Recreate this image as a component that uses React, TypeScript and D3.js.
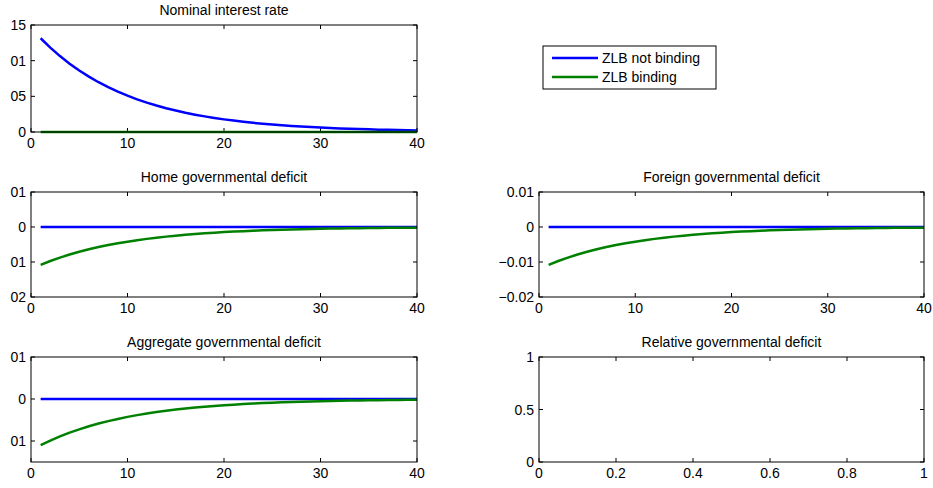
import React from "react";
import * as d3 from "d3";

const periods = d3.range(1, 41);

const nominalNotBinding = [
  0.01314, 0.01183, 0.01064, 0.00958, 0.00862, 0.00776, 0.00698, 0.00628, 0.00566, 0.00509,
  0.00458, 0.00412, 0.00371, 0.00334, 0.00301, 0.0027, 0.00243, 0.00219, 0.00197, 0.00177,
  0.0016, 0.00144, 0.00129, 0.00116, 0.00105, 0.00094, 0.00085, 0.00076, 0.00069, 0.00062,
  0.00056, 0.0005, 0.00045, 0.00041, 0.00037, 0.00033, 0.0003, 0.00027, 0.00024, 0.00022,
];
const nominalBinding = periods.map(() => 0);

const deficitNotBinding = periods.map(() => 0);
const deficitBinding = [
  -0.0108, -0.00972, -0.00875, -0.00787, -0.00709, -0.00638, -0.00574, -0.00517, -0.00465, -0.00419,
  -0.00377, -0.00339, -0.00305, -0.00275, -0.00247, -0.00222, -0.002, -0.0018, -0.00162, -0.00146,
  -0.00131, -0.00118, -0.00106, -0.00096, -0.00086, -0.00078, -0.0007, -0.00063, -0.00057, -0.00051,
  -0.00046, -0.00041, -0.00037, -0.00034, -0.0003, -0.00027, -0.00024, -0.00022, -0.0002, -0.00018,
];
const aggregateBinding = [
  -0.011, -0.0099, -0.00891, -0.00802, -0.00722, -0.0065, -0.00585, -0.00526, -0.00474, -0.00426,
  -0.00384, -0.00345, -0.00311, -0.0028, -0.00252, -0.00227, -0.00204, -0.00184, -0.00165, -0.00149,
  -0.00134, -0.0012, -0.00108, -0.00098, -0.00088, -0.00079, -0.00071, -0.00064, -0.00058, -0.00052,
  -0.00047, -0.00042, -0.00038, -0.00034, -0.00031, -0.00028, -0.00025, -0.00022, -0.0002, -0.00018,
];

const xTicks40 = [0, 10, 20, 30, 40];
const xTicksUnit = [0, 0.2, 0.4, 0.6, 0.8, 1];

const seriesNames = ["ZLB not binding", "ZLB binding"];
const seriesColors = ["#0000ff", "#008000"];

type Tick = { v: number; label: string };

type PanelSpec = {
  title: string;
  left: number;
  right: number;
  top: number;
  bottom: number;
  xDomain: [number, number];
  xTicks: number[];
  yDomain: [number, number];
  yTicks: Tick[];
  series: number[][];
};

const panels: PanelSpec[] = [
  {
    title: "Nominal interest rate",
    left: 31, right: 417, top: 25, bottom: 132,
    xDomain: [0, 40], xTicks: xTicks40,
    yDomain: [0, 0.015],
    yTicks: [
      { v: 0, label: "0" }, { v: 0.005, label: "05" }, { v: 0.01, label: "01" }, { v: 0.015, label: "15" },
    ],
    series: [nominalNotBinding, nominalBinding],
  },
  {
    title: "Home governmental deficit",
    left: 31, right: 417, top: 192, bottom: 297,
    xDomain: [0, 40], xTicks: xTicks40,
    yDomain: [-0.02, 0.01],
    yTicks: [
      { v: -0.02, label: "02" }, { v: -0.01, label: "01" }, { v: 0, label: "0" }, { v: 0.01, label: "01" },
    ],
    series: [deficitNotBinding, deficitBinding],
  },
  {
    title: "Foreign governmental deficit",
    left: 539, right: 924, top: 192, bottom: 297,
    xDomain: [0, 40], xTicks: xTicks40,
    yDomain: [-0.02, 0.01],
    yTicks: [
      { v: -0.02, label: "\u22120.02" }, { v: -0.01, label: "\u22120.01" }, { v: 0, label: "0" }, { v: 0.01, label: "0.01" },
    ],
    series: [deficitNotBinding, deficitBinding],
  },
  {
    title: "Aggregate governmental deficit",
    left: 31, right: 417, top: 357, bottom: 462,
    xDomain: [0, 40], xTicks: xTicks40,
    yDomain: [-0.015, 0.01],
    yTicks: [
      { v: -0.01, label: "01" }, { v: 0, label: "0" }, { v: 0.01, label: "01" },
    ],
    series: [deficitNotBinding, aggregateBinding],
  },
  {
    title: "Relative governmental deficit",
    left: 539, right: 924, top: 357, bottom: 462,
    xDomain: [0, 1], xTicks: xTicksUnit,
    yDomain: [0, 1],
    yTicks: [
      { v: 0, label: "0" }, { v: 0.5, label: "0.5" }, { v: 1, label: "1" },
    ],
    series: [],
  },
];

const FONT = "'Liberation Sans', Arial, Helvetica, sans-serif";
const FS = 14;
const TL = 4;

function Panel({ p, idx }: { p: PanelSpec; idx: number }) {
  const x = d3.scaleLinear().domain(p.xDomain).range([p.left, p.right]);
  const y = d3.scaleLinear().domain(p.yDomain).range([p.bottom, p.top]);
  const line = d3
    .line<number>()
    .x((_, i) => x(periods[i]))
    .y((d) => y(d));
  const cx = (p.left + p.right) / 2;
  return (
    <g>
      <rect x={p.left} y={p.top} width={p.right - p.left} height={p.bottom - p.top} fill="#fff" />
      <defs>
        <clipPath id={`clip${idx}`}>
          <rect x={p.left - 2} y={p.top - 2} width={p.right - p.left + 4} height={p.bottom - p.top + 4} />
        </clipPath>
      </defs>
      {p.xTicks.map((t) => (
        <g key={`xt${t}`}>
          <line x1={x(t)} x2={x(t)} y1={p.bottom} y2={p.bottom - TL} stroke="#000" />
          <line x1={x(t)} x2={x(t)} y1={p.top} y2={p.top + TL} stroke="#000" />
          <text x={x(t)} y={p.bottom + 15.5} textAnchor="middle" fontSize={FS} fontFamily={FONT}>
            {String(t)}
          </text>
        </g>
      ))}
      {p.yTicks.map((t, i) => (
        <g key={`yt${i}`}>
          <line x1={p.left} x2={p.left + TL} y1={y(t.v)} y2={y(t.v)} stroke="#000" />
          <line x1={p.right} x2={p.right - TL} y1={y(t.v)} y2={y(t.v)} stroke="#000" />
          <text x={p.left - 5} y={y(t.v) + 5} textAnchor="end" fontSize={FS} fontFamily={FONT}>
            {t.label}
          </text>
        </g>
      ))}
      <g clipPath={`url(#clip${idx})`}>
        {p.series.map((s, i) => (
          <path key={i} d={line(s) || ""} fill="none" stroke={seriesColors[i]} strokeWidth={2.5} />
        ))}
      </g>
      <rect
        x={p.left}
        y={p.top}
        width={p.right - p.left}
        height={p.bottom - p.top}
        fill="none"
        stroke="#000"
        strokeWidth={1}
      />
      <text x={cx} y={p.top - 10} textAnchor="middle" fontSize={FS} fontFamily={FONT}>
        {p.title}
      </text>
    </g>
  );
}

export default function App() {
  const legendX = 543;
  const legendY = 46;
  return (
    <svg
      width={933}
      height={488}
      style={{ position: "absolute", left: 0, top: 0, background: "#fff" }}
    >
      <rect x={0} y={0} width={933} height={488} fill="#fff" />
      {panels.map((p, i) => (
        <Panel key={i} p={p} idx={i} />
      ))}
      <g>
        <rect x={legendX} y={legendY} width={173} height={43} fill="#fff" stroke="#000" />
        {seriesNames.map((n, i) => (
          <g key={n}>
            <line
              x1={legendX + 9}
              x2={legendX + 55}
              y1={legendY + 12 + i * 19}
              y2={legendY + 12 + i * 19}
              stroke={seriesColors[i]}
              strokeWidth={2.5}
            />
            <text x={legendX + 59} y={legendY + 17 + i * 19} fontSize={FS} fontFamily={FONT}>
              {n}
            </text>
          </g>
        ))}
      </g>
    </svg>
  );
}
